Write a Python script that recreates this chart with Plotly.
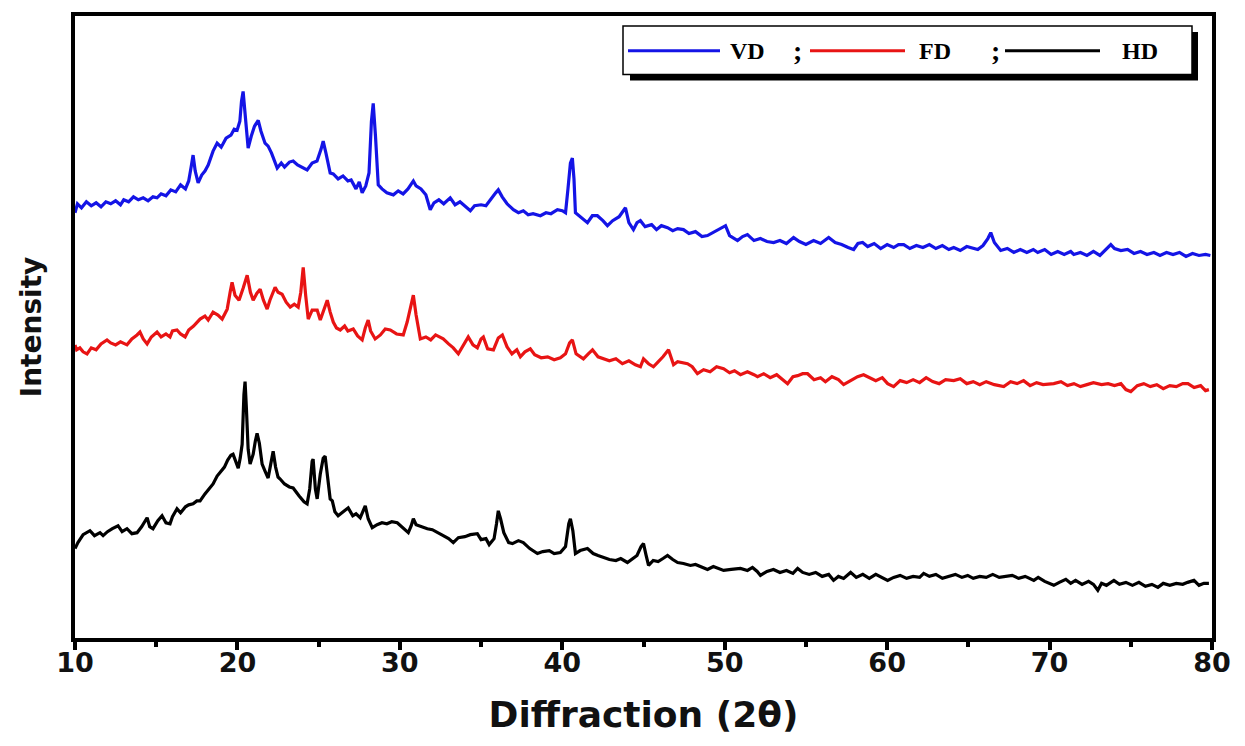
import plotly.graph_objects as go

# XRD patterns (2-theta in degrees, intensity in arbitrary offset units)
vd = [
    (10.0, 428), (10.15, 437), (10.4, 433), (10.7, 439), (11.0, 435), (11.3, 438), (11.6, 434),
    (11.9, 439), (12.2, 437), (12.5, 440), (12.8, 436), (13.0, 441), (13.3, 439), (13.6, 444),
    (13.9, 441), (14.2, 443), (14.5, 440), (14.8, 444), (15.05, 443), (15.3, 447), (15.6, 445),
    (15.9, 451), (16.2, 449), (16.5, 456), (16.8, 452), (17.0, 460), (17.15, 474), (17.27, 486),
    (17.4, 470), (17.58, 458), (17.8, 466), (18.0, 470), (18.2, 476), (18.5, 490), (18.75, 498),
    (19.0, 494), (19.3, 503), (19.6, 506), (19.8, 512), (19.98, 511), (20.15, 520), (20.25, 540),
    (20.35, 550), (20.45, 532), (20.6, 500), (20.66, 493), (20.85, 505), (21.05, 515), (21.28, 521),
    (21.45, 510), (21.7, 498), (21.89, 495), (22.1, 488), (22.3, 478), (22.45, 473), (22.7, 478),
    (22.9, 474), (23.2, 479), (23.43, 480), (23.7, 476), (24.0, 473), (24.29, 471), (24.6, 478),
    (24.9, 480), (25.15, 492), (25.28, 500), (25.45, 488), (25.71, 468), (25.9, 467), (26.2, 462),
    (26.5, 465), (26.8, 460), (27.0, 461), (27.3, 452), (27.5, 459), (27.68, 448), (27.9, 455),
    (28.1, 468), (28.25, 520), (28.36, 538), (28.5, 505), (28.6, 470), (28.67, 456), (28.9, 452),
    (29.2, 448), (29.6, 446), (29.9, 450), (30.2, 447), (30.5, 452), (30.83, 460), (31.0, 455),
    (31.3, 452), (31.6, 446), (31.87, 431), (32.1, 438), (32.4, 441), (32.7, 437), (33.1, 443),
    (33.4, 436), (33.7, 439), (34.0, 435), (34.34, 430), (34.6, 435), (35.0, 436), (35.3, 435),
    (35.6, 442), (35.9, 448), (36.06, 451), (36.3, 444), (36.6, 437), (36.99, 431), (37.3, 428),
    (37.6, 430), (37.9, 426), (38.2, 427), (38.65, 425), (39.0, 428), (39.3, 427), (39.7, 431),
    (40.0, 430), (40.2, 428), (40.35, 452), (40.5, 478), (40.62, 483), (40.72, 462), (40.81, 428),
    (41.1, 424), (41.55, 418), (41.85, 425), (42.16, 425), (42.5, 420), (42.78, 415), (43.1, 420),
    (43.5, 424), (43.89, 433), (44.1, 418), (44.38, 411), (44.6, 418), (44.81, 420), (45.1, 414),
    (45.5, 416), (45.8, 411), (46.1, 415), (46.48, 413), (46.8, 410), (47.1, 412), (47.46, 411),
    (47.8, 407), (48.2, 409), (48.6, 404), (48.94, 405), (49.3, 408), (49.7, 412), (50.05, 415),
    (50.3, 405), (50.79, 400), (51.1, 404), (51.4, 406), (51.8, 400), (52.2, 402), (52.6, 399),
    (53.01, 398), (53.4, 400), (53.8, 397), (54.24, 403), (54.6, 399), (55.0, 396), (55.47, 400),
    (55.9, 397), (56.4, 403), (56.8, 398), (57.2, 396), (57.6, 393), (57.94, 391), (58.2, 397),
    (58.49, 398), (58.8, 394), (59.2, 397), (59.6, 392), (60.0, 396), (60.4, 393), (60.7, 396),
    (61.02, 396), (61.4, 392), (61.8, 395), (62.2, 393), (62.6, 396), (63.0, 392), (63.4, 395),
    (63.8, 391), (64.1, 393), (64.5, 390), (64.9, 394), (65.3, 392), (65.58, 391), (65.9, 395),
    (66.2, 402), (66.38, 408), (66.6, 398), (66.99, 390), (67.4, 392), (67.8, 388), (68.2, 391),
    (68.6, 388), (69.0, 391), (69.27, 388), (69.7, 391), (70.1, 386), (70.5, 389), (70.9, 386),
    (71.3, 389), (71.49, 386), (71.9, 388), (72.3, 385), (72.7, 389), (73.1, 385), (73.5, 391),
    (73.77, 396), (74.0, 392), (74.39, 390), (74.8, 391), (75.2, 387), (75.6, 389), (76.0, 386),
    (76.42, 388), (76.8, 385), (77.2, 388), (77.6, 386), (78.0, 388), (78.4, 384), (78.8, 387),
    (79.2, 385), (79.6, 386), (79.9, 385),
]

fd = [
    (10.0, 295), (10.1, 290), (10.3, 292), (10.5, 288), (10.74, 286), (11.0, 292), (11.3, 290),
    (11.6, 296), (11.97, 300), (12.2, 297), (12.5, 295), (12.8, 298), (13.2, 295), (13.5, 301),
    (13.82, 305), (14.0, 308), (14.2, 301), (14.44, 296), (14.7, 303), (15.05, 308), (15.3, 303),
    (15.6, 306), (15.85, 303), (16.0, 309), (16.28, 310), (16.5, 306), (16.78, 303), (17.0, 310),
    (17.3, 314), (17.5, 318), (17.7, 321), (18.0, 324), (18.2, 320), (18.5, 328), (18.8, 325),
    (19.06, 321), (19.2, 326), (19.37, 331), (19.55, 348), (19.67, 358), (19.85, 345), (20.1, 340),
    (20.35, 352), (20.6, 365), (20.8, 348), (20.97, 340), (21.2, 347), (21.4, 351), (21.6, 340),
    (21.83, 331), (22.0, 340), (22.32, 353), (22.5, 348), (22.75, 346), (23.0, 338), (23.25, 333),
    (23.5, 336), (23.74, 333), (23.9, 348), (24.05, 373), (24.2, 345), (24.36, 321), (24.6, 330),
    (24.91, 330), (25.1, 320), (25.35, 332), (25.53, 340), (25.71, 328), (25.9, 318), (26.1, 312),
    (26.33, 310), (26.6, 314), (26.8, 309), (27.13, 311), (27.4, 304), (27.68, 300), (27.87, 312),
    (28.05, 320), (28.2, 309), (28.48, 301), (28.8, 305), (29.1, 311), (29.41, 310), (29.8, 306),
    (30.21, 305), (30.45, 318), (30.65, 334), (30.83, 345), (31.0, 325), (31.26, 301), (31.6, 303),
    (31.9, 300), (32.2, 305), (32.67, 301), (33.0, 296), (33.29, 292), (33.6, 286), (33.9, 294),
    (34.21, 303), (34.5, 295), (34.77, 292), (35.0, 301), (35.14, 303), (35.4, 291), (35.76, 290),
    (36.06, 302), (36.31, 305), (36.6, 293), (36.9, 286), (37.2, 290), (37.42, 283), (37.7, 288),
    (38.03, 291), (38.3, 285), (38.7, 282), (39.1, 283), (39.5, 280), (39.88, 282), (40.2, 286),
    (40.45, 297), (40.62, 300), (40.85, 286), (41.3, 281), (41.6, 286), (41.86, 290), (42.2, 283),
    (42.53, 281), (42.9, 279), (43.3, 281), (43.7, 276), (44.1, 279), (44.5, 275), (44.81, 273),
    (45.0, 281), (45.31, 276), (45.61, 273), (45.9, 278), (46.2, 283), (46.54, 290), (46.7, 282),
    (46.85, 275), (47.1, 278), (47.46, 277), (47.71, 276), (48.0, 273), (48.32, 266), (48.7, 270),
    (49.1, 268), (49.5, 273), (49.93, 271), (50.3, 267), (50.6, 269), (50.97, 265), (51.4, 268),
    (51.8, 265), (52.02, 263), (52.4, 266), (52.8, 262), (53.2, 265), (53.6, 259), (53.87, 256),
    (54.2, 263), (54.49, 264), (54.8, 266), (55.1, 266), (55.5, 260), (55.9, 262), (56.2, 258),
    (56.6, 263), (57.0, 260), (57.32, 255), (57.75, 259), (58.18, 263), (58.55, 265), (58.9, 262),
    (59.3, 259), (59.7, 262), (60.03, 256), (60.4, 253), (60.8, 259), (61.2, 257), (61.6, 260),
    (62.0, 257), (62.4, 262), (62.8, 258), (63.2, 256), (63.6, 260), (64.1, 259), (64.5, 261),
    (64.9, 256), (65.3, 258), (65.7, 255), (66.1, 258), (66.6, 255), (67.18, 253), (67.6, 258),
    (68.0, 256), (68.4, 259), (68.8, 254), (69.2, 257), (69.6, 255), (70.26, 256), (70.7, 258),
    (71.1, 254), (71.5, 256), (71.9, 253), (72.3, 255), (72.7, 257), (73.2, 255), (73.6, 256),
    (74.0, 254), (74.39, 256), (74.7, 250), (75.0, 248), (75.4, 254), (75.8, 256), (76.2, 253),
    (76.6, 255), (77.0, 251), (77.4, 254), (77.8, 253), (78.2, 256), (78.52, 256), (78.9, 252),
    (79.3, 254), (79.6, 249), (79.81, 250),
]

hd = [
    (10.0, 90), (10.18, 96), (10.5, 104), (10.92, 108), (11.2, 103), (11.54, 106), (11.73, 103),
    (12.0, 107), (12.3, 110), (12.65, 113), (12.9, 107), (13.2, 110), (13.5, 105), (13.82, 106),
    (14.1, 112), (14.44, 121), (14.6, 112), (14.8, 110), (15.1, 118), (15.36, 123), (15.6, 116),
    (15.85, 115), (16.0, 122), (16.28, 130), (16.5, 126), (16.8, 132), (17.0, 134), (17.27, 135),
    (17.5, 138), (17.7, 138), (18.0, 145), (18.3, 151), (18.5, 155), (18.75, 163), (19.0, 168),
    (19.2, 172), (19.4, 179), (19.6, 184), (19.73, 185), (19.9, 178), (20.05, 171), (20.17, 181),
    (20.29, 195), (20.4, 245), (20.47, 258), (20.55, 232), (20.66, 190), (20.78, 175), (20.97, 185),
    (21.1, 198), (21.21, 206), (21.35, 196), (21.52, 175), (21.7, 168), (21.89, 161), (22.05, 175),
    (22.2, 188), (22.35, 172), (22.5, 162), (22.63, 160), (22.9, 155), (23.2, 152), (23.43, 151),
    (23.8, 143), (24.1, 137), (24.29, 135), (24.45, 150), (24.6, 178), (24.66, 180), (24.8, 150),
    (24.91, 140), (25.1, 165), (25.28, 181), (25.4, 183), (25.55, 165), (25.71, 140), (25.84, 138),
    (26.0, 127), (26.2, 123), (26.5, 127), (26.82, 131), (27.1, 123), (27.3, 125), (27.56, 121),
    (27.75, 128), (27.87, 133), (28.05, 120), (28.3, 111), (28.6, 114), (28.9, 116), (29.2, 115),
    (29.5, 117), (29.84, 116), (30.1, 112), (30.52, 106), (30.7, 113), (30.83, 120), (31.0, 114),
    (31.3, 112), (31.69, 110), (32.0, 109), (32.3, 106), (32.67, 103), (33.0, 100), (33.29, 96),
    (33.6, 101), (34.0, 102), (34.34, 104), (34.77, 105), (35.0, 99), (35.3, 100), (35.5, 94),
    (35.8, 100), (35.95, 115), (36.06, 128), (36.2, 120), (36.4, 106), (36.7, 96), (36.93, 95),
    (37.3, 98), (37.6, 96), (38.0, 90), (38.47, 85), (38.8, 87), (39.2, 88), (39.5, 85),
    (39.88, 86), (40.2, 92), (40.4, 115), (40.5, 120), (40.65, 108), (40.81, 85), (41.1, 88),
    (41.55, 90), (41.9, 85), (42.2, 83), (42.53, 81), (42.9, 79), (43.3, 78), (43.6, 80),
    (44.01, 76), (44.3, 79), (44.6, 83), (44.85, 92), (45.0, 95), (45.15, 84), (45.31, 73),
    (45.6, 78), (45.9, 77), (46.2, 80), (46.48, 83), (46.8, 79), (47.1, 76), (47.46, 75),
    (47.89, 73), (48.2, 74), (48.6, 71), (48.94, 69), (49.3, 72), (49.93, 68), (50.4, 69),
    (50.97, 70), (51.4, 68), (51.71, 71), (52.0, 67), (52.2, 63), (52.6, 67), (53.0, 69),
    (53.4, 66), (53.8, 68), (54.2, 65), (54.49, 70), (54.8, 66), (55.2, 64), (55.6, 66),
    (56.0, 62), (56.4, 64), (56.7, 58), (57.0, 62), (57.32, 60), (57.75, 66), (58.1, 61),
    (58.5, 64), (58.9, 60), (59.3, 64), (59.7, 61), (60.03, 58), (60.4, 61), (60.8, 63),
    (61.2, 60), (61.6, 62), (62.0, 61), (62.25, 65), (62.6, 62), (63.0, 64), (63.4, 60),
    (63.8, 62), (64.2, 64), (64.6, 61), (64.96, 63), (65.3, 60), (65.7, 62), (66.1, 61),
    (66.5, 64), (66.9, 61), (67.3, 62), (67.7, 63), (68.1, 60), (68.5, 62), (69.03, 58),
    (69.3, 61), (69.7, 57), (70.26, 53), (70.6, 56), (71.0, 59), (71.3, 55), (71.6, 58),
    (72.0, 54), (72.4, 57), (72.7, 54), (72.97, 48), (73.2, 55), (73.5, 53), (73.96, 58),
    (74.3, 54), (74.7, 56), (75.1, 53), (75.5, 56), (75.9, 52), (76.3, 54), (76.67, 51),
    (77.0, 55), (77.4, 53), (77.8, 55), (78.2, 54), (78.5, 56), (78.89, 58), (79.2, 53),
    (79.5, 55), (79.81, 55),
]

series_names = ["VD", "FD", "HD"]
series_colors = ["#1414E6", "#E81414", "#000000"]
x_ticks = [10, 20, 30, 40, 50, 60, 70, 80]

fig = go.Figure()
for name, color, data in zip(series_names, series_colors, [vd, fd, hd]):
    xs = [p[0] for p in data]
    ys = [p[1] for p in data]
    fig.add_trace(go.Scatter(x=xs, y=ys, mode="lines", name=name,
                             line=dict(color=color, width=3.2), showlegend=False))

sans = "DejaVu Sans, Verdana, sans-serif"
serif = "Liberation Serif, Times New Roman, serif"

fig.update_layout(
    width=1245, height=746,
    margin=dict(l=75, r=33, t=12, b=108),
    paper_bgcolor="white", plot_bgcolor="white",
    xaxis=dict(
        range=[10, 80], tickvals=x_ticks, ticktext=[str(v) for v in x_ticks],
        ticks="outside", ticklen=8, tickwidth=3.5, tickcolor="black",
        minor=dict(dtick=5, tick0=10, ticks="outside", ticklen=5, tickwidth=3.5, tickcolor="black"),
        showline=True, linewidth=3.5, linecolor="black", mirror=True,
        showgrid=False, zeroline=False,
        ticklabelstandoff=-10,
        tickfont=dict(family=sans, size=27, color="#111", weight="bold"),
        title=dict(text="Diffraction (2θ)", standoff=26,
                   font=dict(family=sans, size=36, color="#111", weight="bold")),
    ),
    yaxis=dict(
        range=[0, 626], showticklabels=False, ticks="",
        showline=True, linewidth=3.5, linecolor="black", mirror=True,
        showgrid=False, zeroline=False,
        title=dict(text="Intensity", standoff=22,
                   font=dict(family=sans, size=28, color="#111", weight="bold")),
    ),
)

# Framed legend with drop shadow
def px_x(p):
    return (p - 75) / 1137

def px_y(p):
    return (638 - p) / 626

fig.add_shape(type="rect", xref="paper", yref="paper",
              x0=px_x(630), x1=px_x(1198), y0=px_y(77), y1=px_y(28),
              fillcolor="black", line=dict(width=0))
fig.add_shape(type="rect", xref="paper", yref="paper",
              x0=px_x(623), x1=px_x(1192), y0=px_y(71), y1=px_y(22),
              fillcolor="white", line=dict(color="black", width=1.5))

legend_y = px_y(47)
legend_items = [
    (628, 720, 728, "VD", 797),
    (810, 905, 917, "FD", 995),
    (1005, 1100, 1120, "HD", None),
]
for (lx0, lx1, tx, label, semi), color in zip(legend_items, series_colors):
    fig.add_shape(type="line", xref="paper", yref="paper",
                  x0=px_x(lx0), x1=px_x(lx1), y0=legend_y, y1=legend_y,
                  line=dict(color=color, width=3))
    fig.add_annotation(xref="paper", yref="paper", x=px_x(tx), y=legend_y,
                       text=label, showarrow=False, xanchor="left", yanchor="middle",
                       font=dict(family=serif, size=24, color="black", weight="bold"))
    if semi is not None:
        fig.add_annotation(xref="paper", yref="paper", x=px_x(semi), y=legend_y,
                           text=";", showarrow=False, xanchor="center", yanchor="middle",
                           font=dict(family=serif, size=28, color="black", weight="bold"))

fig.write_html("out.html")
